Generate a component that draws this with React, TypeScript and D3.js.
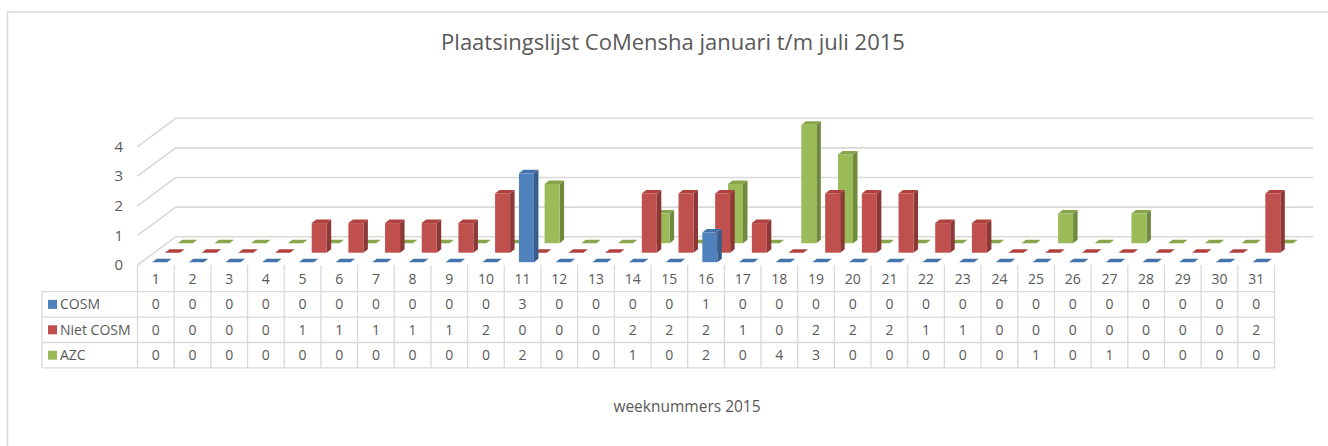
import React from "react";
import * as d3 from "d3";

const weeks = d3.range(1, 32).map(String);
const seriesNames = ["COSM", "Niet COSM", "AZC"];
const cosm = [0, 0, 0, 0, 0, 0, 0, 0, 0, 0, 3, 0, 0, 0, 0, 1, 0, 0, 0, 0, 0, 0, 0, 0, 0, 0, 0, 0, 0, 0, 0];
const nietCosm = [0, 0, 0, 0, 1, 1, 1, 1, 1, 2, 0, 0, 0, 2, 2, 2, 1, 0, 2, 2, 2, 1, 1, 0, 0, 0, 0, 0, 0, 0, 2];
const azc = [0, 0, 0, 0, 0, 0, 0, 0, 0, 0, 2, 0, 0, 1, 0, 2, 0, 4, 3, 0, 0, 0, 0, 0, 1, 0, 1, 0, 0, 0, 0];
const yTicks = [0, 1, 2, 3, 4];

const colors = [
  { front: "#4F81BD", top: "#4573AC", side: "#385D8A" },
  { front: "#C0504D", top: "#B0413E", side: "#8C3836" },
  { front: "#9BBB59", top: "#87A54B", side: "#71893F" },
];

const FONT = "'Open Sans', 'Noto Sans', sans-serif";
const TEXT = "#595959";
const GRID = "#D9D9D9";

export default function App() {
  const width = 1328;
  const height = 446;
  const left = 137.5;
  const right = 1274.5;
  const floorY = 265;
  const depthX = 38.3;
  const depthY = -28.3;
  const barW = 15;
  const barDX = 4.5;
  const barDY = -3.5;

  const x = d3.scaleBand<string>().domain(weeks).range([left, right]);
  const y = d3.scaleLinear().domain([0, 4]).range([0, 118.4]);
  const rowDepth = d3.scalePoint<string>().domain(seriesNames).range([0.1, 0.77]);

  const allSeries = [cosm, nietCosm, azc];

  const rowTop = 291.7;
  const rowH = 25.4;
  const tableLeft = 42;

  // draw back row first
  const bars: JSX.Element[] = [];
  [2, 1, 0].forEach((s) => {
    const f = rowDepth(seriesNames[s]) as number;
    const ox = f * depthX;
    const oy = f * depthY;
    const c = colors[s];
    allSeries[s].forEach((v, i) => {
      const cx = (x(weeks[i]) as number) + x.bandwidth() / 2 + ox;
      const x0 = cx - barW / 2;
      const x1 = cx + barW / 2;
      const base = floorY + oy;
      const top = base - y(v);
      const key = `${s}-${i}`;
      const topFace = `M${x0},${top}L${x1},${top}L${x1 + barDX},${top + barDY}L${x0 + barDX},${top + barDY}Z`;
      if (v === 0) {
        bars.push(<path key={key} d={topFace} fill={c.top} />);
        return;
      }
      bars.push(
        <g key={key}>
          <path
            d={`M${x1},${base}L${x1 + barDX},${base + barDY}L${x1 + barDX},${top + barDY}L${x1},${top}Z`}
            fill={c.side}
          />
          <rect x={x0} y={top} width={barW} height={base - top} fill={c.front} />
          <path d={topFace} fill={c.top} />
        </g>
      );
    });
  });

  return (
    <svg
      width={width}
      height={height}
      style={{ position: "absolute", left: 0, top: 0, background: "#fff" }}
      fontFamily={FONT}
    >
      {/* chart frame */}
      <path d={`M7.5,${height}V12H${width}`} fill="none" stroke={GRID} strokeWidth={1.5} />

      <text x={673} y={50} textAnchor="middle" fontSize={22} fill={TEXT}>
        Plaatsingslijst CoMensha januari t/m juli 2015
      </text>

      {/* back wall gridlines */}
      {yTicks.map((t) => (
        <path
          key={t}
          d={`M${left},${floorY - y(t)}L${left + depthX},${floorY - y(t) + depthY}H1313`}
          fill="none"
          stroke={GRID}
          strokeWidth={1.6}
        />
      ))}
      {yTicks.map((t) => (
        <text
          key={`l${t}`}
          x={123}
          y={floorY - y(t)}
          dy="0.35em"
          textAnchor="end"
          fontSize={15}
          fill={TEXT}
        >
          {t}
        </text>
      ))}

      {bars}

      {/* data table */}
      <g stroke={GRID} strokeWidth={1.3} fill="none">
        {d3.range(weeks.length + 1).map((k) => {
          const xx = k === weeks.length ? right : (x(weeks[k]) as number);
          return <line key={k} x1={xx} x2={xx} y1={floorY} y2={rowTop + 3 * rowH} />;
        })}
        {d3.range(4).map((r) => (
          <line key={`h${r}`} x1={tableLeft} x2={right} y1={rowTop + r * rowH} y2={rowTop + r * rowH} />
        ))}
        <line x1={tableLeft} x2={tableLeft} y1={rowTop} y2={rowTop + 3 * rowH} />
      </g>
      {weeks.map((w) => (
        <text
          key={w}
          x={(x(w) as number) + x.bandwidth() / 2}
          y={(floorY + rowTop) / 2 + 1}
          dy="0.35em"
          textAnchor="middle"
          fontSize={14}
          fill={TEXT}
        >
          {w}
        </text>
      ))}
      {allSeries.map((vals, s) => (
        <g key={`row${s}`}>
          <rect x={48} y={rowTop + s * rowH + rowH / 2 - 4.5} width={9} height={9} fill={colors[s].front} />
          <text x={60} y={rowTop + s * rowH + rowH / 2} dy="0.35em" fontSize={14} fill={TEXT}>
            {seriesNames[s]}
          </text>
          {vals.map((v, i) => (
            <text
              key={i}
              x={(x(weeks[i]) as number) + x.bandwidth() / 2}
              y={rowTop + s * rowH + rowH / 2}
              dy="0.35em"
              textAnchor="middle"
              fontSize={14}
              fill={TEXT}
            >
              {v}
            </text>
          ))}
        </g>
      ))}

      <text x={687} y={407} dy="0.35em" textAnchor="middle" fontSize={15.5} fill={TEXT}>
        weeknummers 2015
      </text>
    </svg>
  );
}
